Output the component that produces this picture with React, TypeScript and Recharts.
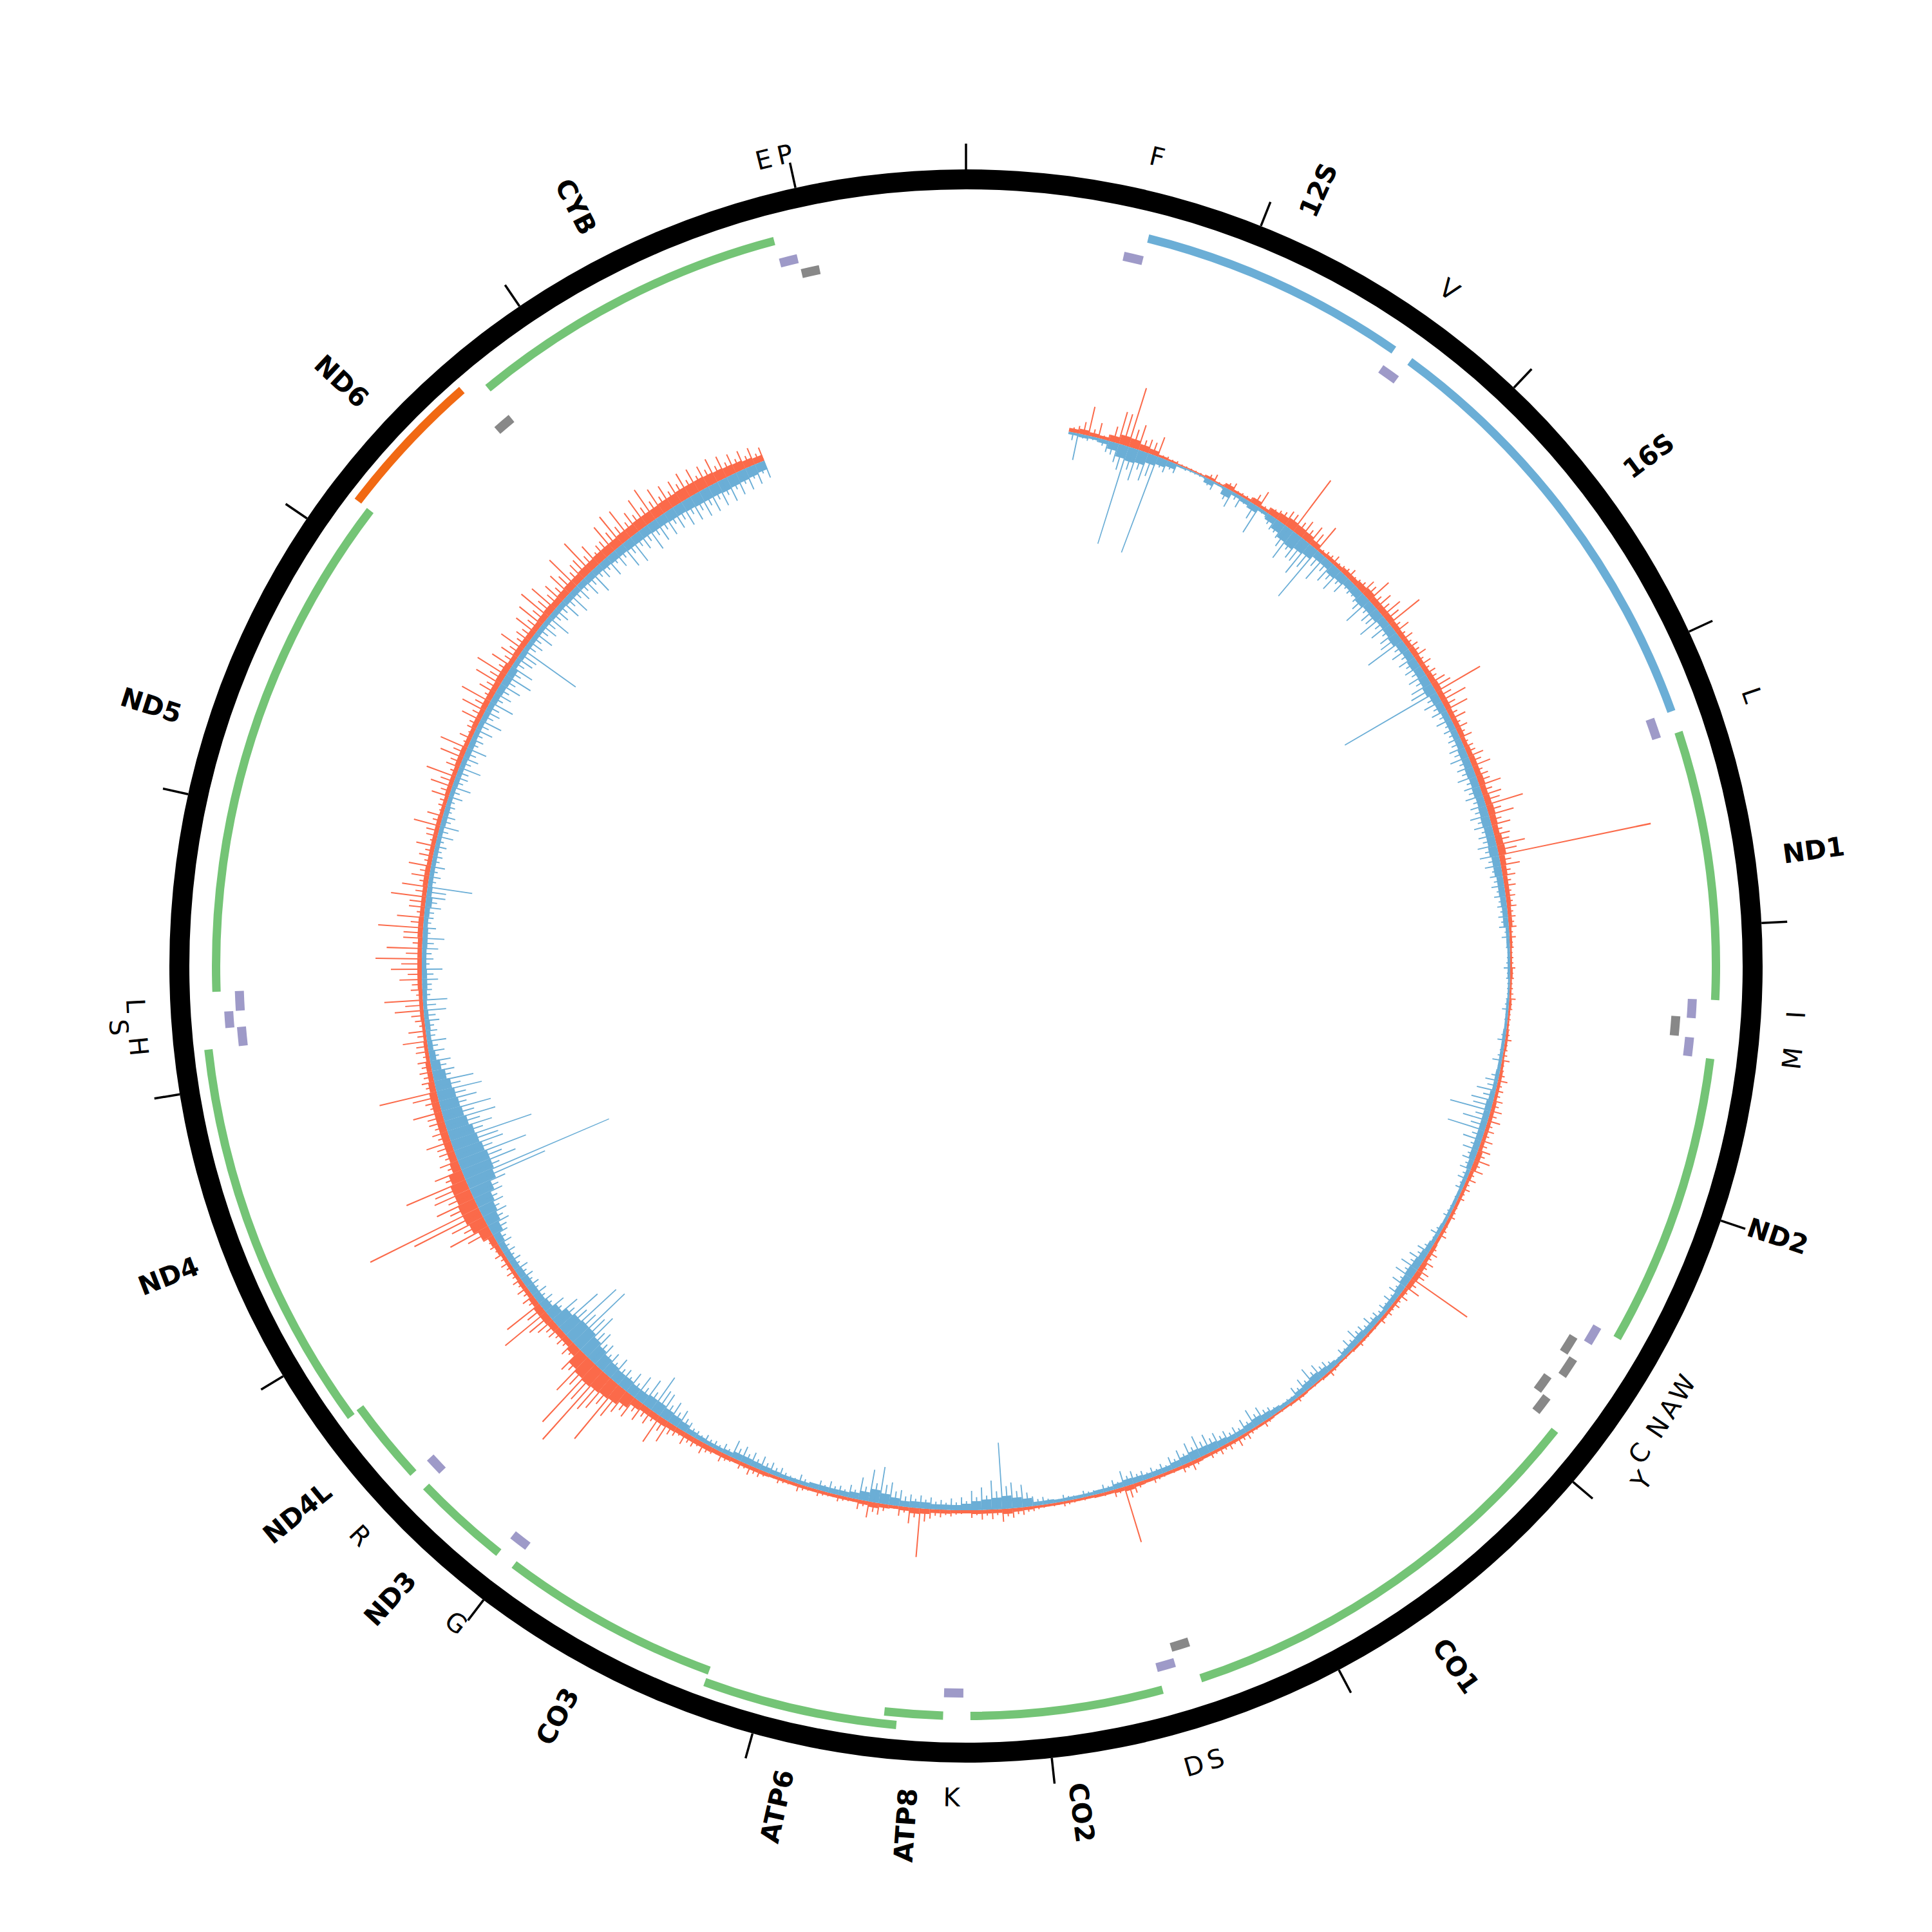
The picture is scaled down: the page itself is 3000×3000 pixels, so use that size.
import React from 'react';
import { PieChart, Pie, Cell, RadialBarChart, RadialBar, PolarAngleAxis, PolarRadiusAxis } from 'recharts';

const GENOME = 16569;
const SIZE = 3000;
const CX = 1500;
const CY = 1500;

// ---------------- outer ring & ticks ----------------
const RING_INNER = 1206;
const RING_OUTER = 1237;
const TICK_LEN = 40;
const tickPositions = [0, 1000, 2000, 3000, 4000, 5000, 6000, 7000, 8000, 9000, 10000, 11000, 12000, 13000, 14000, 15000, 16000];

// ---------------- features ----------------
const proteinNames = ['ND1', 'ND2', 'CO1', 'CO2', 'ATP8', 'ATP6', 'CO3', 'ND3', 'ND4L', 'ND4', 'ND5', 'CYB'];
const proteinStarts = [3307, 4470, 5904, 7586, 8366, 8527, 9207, 10059, 10470, 10760, 12337, 14747];
const proteinEnds = [4262, 5511, 7445, 8269, 8572, 9207, 9990, 10404, 10766, 12137, 14148, 15887];
const proteinLevels = [0, 0, 0, 0, 0, 1, 0, 0, 0, 1, 0, 0];

const minusProteinNames = ['ND6'];
const minusProteinStarts = [14149];
const minusProteinEnds = [14673];

const rrnaNames = ['12S', '16S'];
const rrnaStarts = [648, 1671];
const rrnaEnds = [1601, 3229];

const trnaPlusNames = ['F', 'V', 'L', 'I', 'M', 'W', 'D', 'K', 'G', 'R', 'H', 'S', 'L', 'T'];
const trnaPlusStarts = [577, 1602, 3230, 4263, 4402, 5512, 7518, 8295, 9991, 10405, 12138, 12207, 12266, 15888];
const trnaPlusEnds = [647, 1670, 3304, 4331, 4469, 5579, 7585, 8364, 10058, 10469, 12206, 12265, 12336, 15953];
const trnaPlusLevels = [0, 0, 0, 0, 0, 0, 0, 0, 0, 0, 0, 1, 0, 0];

const trnaMinusNames = ['Q', 'A', 'N', 'C', 'Y', 'S', 'E', 'P'];
const trnaMinusStarts = [4329, 5587, 5657, 5761, 5826, 7446, 14674, 15956];
const trnaMinusEnds = [4400, 5655, 5729, 5826, 5891, 7514, 14742, 16023];
const trnaMinusLevels = [0, 0, 1, 0, 1, 0, 0, 0];

// small tRNA labels as printed on the figure
const trnaLabelTexts = ['F', 'V', 'L', 'I', 'M', 'W', 'A', 'N', 'C', 'Y', 'S', 'D', 'K', 'G', 'R', 'H', 'S', 'L', 'E', 'P'];
const trnaLabelPositions = [612, 1636, 3267, 4297, 4436, 5546, 5621, 5693, 5794, 5859, 7480, 7552, 8330, 10025, 10437, 12172, 12236, 12301, 15921, 15990];
const trnaLabelLevels = [0, 0, 0, 0, 0, 0, 0, 0, 0, 1, 0, 0, 0, 0, 0, 0, 1, 0, 0, 0];

// ---------------- colours ----------------
const GREEN = '#74c476';
const BLUE = '#6baed6';
const ORANGE = '#f16913';
const PURPLE = '#9e9ac8';
const GREY = '#888888';
const HIST_RED = '#fb6a4a';
const HIST_BLUE = '#6baed6';

// ---------------- track radii ----------------
const GENE_R: [number, number] = [1158, 1171];
const GENE_BUMP_R: [number, number] = [1177, 1190];
const ND6_R: [number, number] = [1182, 1195];
const TPLUS_R: [number, number] = [1122, 1136];
const TPLUS_BUMP_R: [number, number] = [1140, 1154];
const TMINUS_R: [number, number] = [1098, 1112];
const TMINUS_BUMP_R: [number, number] = [1116, 1130];
const GENE_LABEL_R = 1280;
const TRNA_LABEL_R = 1291;
const LABEL_BUMP = 28;

// ---------------- histogram (≈50 bp bins, bins 11..311) ----------------
// body = dense core height, spikeA = tallest line in bin, spikeB = secondary line
const N_BINS = 331;
const FIRST_BIN = 11;
const redBody = [
  6, 8, 6, 5, 10, 15, 14, 10, 8,
  4, 3, 2, 2, 2, 4, 2, 7, 4, 4, 9, 5, 10, 12, 14, 13, 12, 9, 5, 6,
  6, 8, 8, 10, 12, 10, 10, 10, 9, 8, 8, 9, 8, 8, 9, 10, 9, 9, 8, 8,
  8, 7, 8, 9, 9, 10, 9, 10, 11, 10, 9, 11, 12, 9, 8, 7, 7, 7, 6, 6,
  4, 4, 3, 3, 4, 3, 3, 4, 3, 3, 4, 4, 3, 4, 5, 5, 5, 6, 6, 6,
  6, 6, 8, 8, 6, 5, 5, 5, 5, 5, 5, 5, 6, 6, 8, 9, 8, 6, 5, 5,
  5, 4, 4, 4, 4, 3, 3, 4, 4, 3, 3, 4, 4, 3, 3, 4, 4, 4, 5, 5,
  5, 5, 5, 6, 6, 5, 5, 5, 5, 6, 8, 6, 5, 5, 4, 4, 4, 4, 4, 4,
  5, 6, 8, 6, 6, 6, 5, 5, 6, 6, 8, 9, 6, 5, 6, 8, 6, 5, 5, 5,
  5, 5, 5, 5, 5, 5, 6, 6, 6, 6, 7, 7, 8, 8, 8, 8, 9, 10, 10, 10,
  12, 20, 26, 28, 30, 32, 30, 26, 14, 10, 10, 11, 12, 12, 9, 7, 7, 6, 6, 6,
  8, 10, 18, 25, 28, 28, 26, 26, 22, 14, 12, 12, 12, 12, 12, 12, 12, 10, 8, 8,
  6, 6, 5, 5, 6, 6, 6, 7, 7, 7, 7, 7, 8, 8, 7, 7, 7, 8, 8, 7,
  7, 7, 7, 7, 6, 6, 7, 7, 7, 8, 8, 7, 7, 8, 8, 9, 9, 9, 10, 10,
  8, 9, 9, 9, 9, 10, 11, 10, 11, 12, 12, 13, 13, 14, 14, 14, 15, 15, 16, 16,
  16, 17, 17, 18, 18, 18, 17, 16, 15, 14, 12, 10,
];
const redSpikeA = [
  12, 46, 24, 10, 51, 95, 40, 22, 32,
  6, 5, 3, 3, 4, 12, 4, 14, 6, 8, 28, 10, 15, 25, 98, 30, 32, 45, 10, 15,
  10, 17, 12, 25, 41, 30, 35, 60, 25, 20, 18, 22, 20, 18, 25, 79, 43, 37, 25, 20,
  20, 15, 25, 30, 20, 35, 30, 60, 40, 30, 25, 45, 241, 30, 20, 18, 15, 15, 12, 12,
  10, 6, 5, 8, 6, 5, 10, 6, 5, 5, 10, 6, 12, 6, 15, 12, 15, 18, 20, 15,
  18, 20, 25, 20, 15, 12, 10, 6, 10, 6, 12, 6, 15, 18, 20, 105, 25, 15, 12, 10,
  10, 5, 5, 8, 5, 4, 4, 10, 5, 4, 4, 8, 5, 4, 4, 10, 5, 12, 15, 12,
  12, 10, 6, 15, 12, 6, 6, 10, 6, 15, 90, 12, 6, 5, 5, 5, 8, 5, 5, 8,
  12, 15, 20, 15, 15, 12, 6, 10, 12, 15, 76, 25, 15, 6, 18, 25, 15, 6, 10, 6,
  10, 6, 12, 6, 10, 6, 12, 15, 12, 8, 15, 10, 18, 15, 20, 15, 36, 48, 25, 30,
  36, 40, 108, 60, 141, 121, 70, 42, 25, 20, 22, 30, 82, 64, 20, 18, 15, 15, 15, 16,
  15, 18, 67, 55, 188, 64, 60, 100, 45, 30, 25, 40, 25, 25, 46, 22, 91, 20, 20, 20,
  20, 38, 27, 15, 45, 60, 18, 35, 48, 72, 55, 30, 70, 42, 25, 55, 40, 28, 35, 22,
  30, 18, 42, 25, 12, 28, 35, 48, 22, 38, 45, 20, 15, 32, 40, 50, 28, 44, 52, 36,
  30, 42, 25, 38, 45, 55, 48, 35, 40, 58, 30, 60, 38, 25, 48, 55, 52, 36, 48, 56,
  45, 40, 38, 42, 40, 36, 40, 36, 32, 30, 28, 22,
];
const redSpikeB = [
  8, 20, 12, 6, 25, 50, 30, 18, 20,
  5, 4, 3, 3, 3, 8, 3, 10, 5, 6, 18, 7, 12, 18, 25, 22, 20, 25, 7, 10,
  8, 12, 10, 15, 22, 18, 20, 25, 15, 12, 12, 15, 12, 12, 15, 30, 22, 20, 15, 12,
  12, 10, 15, 18, 14, 20, 18, 25, 22, 18, 15, 22, 30, 18, 14, 12, 10, 10, 9, 9,
  6, 5, 4, 5, 5, 4, 6, 5, 4, 4, 6, 5, 7, 5, 9, 8, 9, 11, 12, 10,
  10, 12, 14, 12, 9, 8, 7, 5, 7, 5, 8, 5, 9, 10, 12, 18, 14, 9, 8, 7,
  6, 4, 4, 5, 4, 3, 3, 6, 4, 3, 3, 5, 4, 3, 3, 6, 4, 7, 9, 7,
  8, 7, 5, 9, 8, 5, 5, 7, 5, 9, 20, 8, 5, 4, 4, 4, 6, 4, 4, 6,
  8, 10, 12, 9, 9, 8, 5, 7, 8, 10, 20, 15, 9, 5, 11, 15, 9, 5, 7, 5,
  7, 5, 8, 5, 7, 5, 8, 10, 8, 6, 10, 7, 12, 10, 13, 10, 18, 22, 15, 18,
  20, 30, 55, 45, 70, 65, 50, 35, 18, 15, 15, 20, 40, 30, 14, 12, 10, 10, 10, 10,
  10, 12, 40, 38, 116, 45, 40, 55, 30, 20, 18, 25, 18, 18, 25, 16, 40, 15, 15, 15,
  10, 18, 14, 9, 20, 28, 10, 16, 22, 32, 25, 15, 30, 20, 12, 25, 18, 14, 16, 12,
  14, 10, 20, 14, 8, 12, 16, 22, 12, 18, 20, 10, 9, 15, 18, 22, 14, 20, 24, 18,
  18, 20, 18, 20, 22, 25, 28, 24, 22, 30, 22, 32, 25, 18, 26, 30, 28, 24, 26, 28,
  28, 26, 25, 28, 26, 24, 26, 24, 22, 20, 18, 15,
];
const blueBody = [
  4, 5, 4, 6, 12, 20, 22, 20, 15,
  12, 9, 3, 2, 2, 8, 3, 12, 5, 7, 10, 5, 10, 16, 22, 24, 20, 18, 12, 12,
  16, 14, 12, 13, 16, 14, 15, 13, 14, 16, 13, 12, 14, 13, 14, 16, 13, 12, 10, 10,
  10, 10, 12, 12, 13, 12, 13, 12, 13, 14, 13, 13, 14, 12, 12, 10, 10, 9, 8, 8,
  5, 5, 4, 4, 4, 3, 3, 4, 4, 4, 5, 5, 5, 5, 6, 6, 8, 10, 10, 10,
  10, 10, 10, 8, 6, 6, 5, 5, 5, 5, 6, 6, 8, 10, 12, 13, 12, 10, 8, 8,
  6, 8, 8, 10, 9, 8, 6, 8, 10, 12, 10, 8, 6, 6, 8, 10, 12, 10, 8, 8,
  10, 12, 13, 14, 12, 10, 8, 8, 8, 9, 10, 8, 6, 6, 5, 5, 5, 5, 6, 6,
  13, 16, 20, 18, 16, 14, 10, 8, 8, 8, 10, 10, 9, 12, 16, 20, 14, 10, 8, 8,
  8, 8, 6, 6, 6, 7, 8, 9, 10, 10, 7, 6, 6, 7, 8, 12, 14, 16, 18, 18,
  16, 16, 18, 18, 20, 22, 26, 30, 34, 34, 32, 28, 20, 14, 12, 12, 12, 11, 10, 10,
  10, 12, 18, 22, 25, 28, 35, 45, 48, 48, 45, 42, 40, 35, 32, 30, 28, 25, 20, 15,
  10, 8, 7, 8, 7, 6, 7, 8, 8, 7, 7, 8, 8, 7, 8, 10, 8, 7, 7, 7,
  7, 7, 7, 8, 8, 7, 7, 8, 8, 8, 9, 9, 8, 8, 9, 9, 10, 11, 12, 12,
  8, 9, 8, 8, 8, 8, 9, 9, 10, 10, 10, 11, 11, 12, 13, 13, 14, 14, 14, 15,
  15, 16, 16, 17, 18, 18, 18, 19, 18, 17, 16, 14,
];
const blueSpikeA = [
  42, 8, 6, 18, 30, 158, 50, 45, 159,
  20, 15, 4, 3, 3, 14, 4, 27, 19, 10, 46, 8, 20, 25, 52, 40, 58, 93, 45, 35,
  38, 30, 18, 20, 47, 30, 45, 35, 30, 65, 30, 28, 27, 30, 35, 164, 30, 25, 25, 20,
  20, 25, 30, 25, 30, 25, 28, 25, 30, 28, 25, 30, 30, 25, 20, 20, 18, 15, 15, 15,
  12, 6, 5, 10, 6, 4, 5, 10, 5, 5, 12, 6, 15, 6, 20, 30, 35, 65, 40, 60,
  30, 25, 20, 18, 15, 12, 6, 6, 10, 6, 15, 8, 20, 25, 30, 30, 25, 20, 18, 15,
  15, 20, 18, 25, 20, 15, 8, 18, 25, 30, 22, 18, 8, 8, 15, 25, 30, 22, 18, 20,
  25, 30, 35, 30, 25, 20, 15, 15, 15, 20, 25, 15, 12, 7, 10, 6, 10, 6, 12, 15,
  35, 40, 103, 45, 35, 30, 20, 18, 15, 18, 20, 20, 25, 35, 57, 50, 35, 20, 15, 18,
  15, 8, 15, 8, 15, 18, 22, 22, 25, 28, 15, 12, 14, 12, 18, 30, 35, 40, 62, 45,
  40, 35, 30, 38, 36, 40, 50, 70, 110, 105, 79, 50, 35, 25, 25, 22, 22, 23, 20, 20,
  23, 25, 36, 40, 42, 48, 60, 242, 90, 113, 80, 132, 72, 82, 79, 60, 72, 62, 35, 32,
  25, 30, 18, 23, 35, 38, 15, 25, 32, 18, 25, 34, 20, 15, 25, 30, 70, 18, 22, 15,
  18, 25, 30, 20, 15, 22, 30, 20, 35, 25, 32, 20, 28, 36, 25, 40, 28, 35, 45, 38,
  28, 100, 25, 32, 28, 40, 26, 34, 38, 28, 32, 40, 26, 34, 30, 42, 45, 32, 44, 38,
  38, 36, 40, 40, 42, 42, 40, 40, 36, 35, 32, 28,
];
const blueSpikeB = [
  12, 6, 5, 10, 20, 40, 35, 30, 35,
  15, 12, 3, 3, 3, 10, 3, 18, 10, 8, 25, 6, 15, 20, 35, 30, 40, 40, 25, 22,
  25, 20, 15, 16, 28, 20, 28, 22, 20, 35, 20, 18, 20, 20, 22, 40, 20, 18, 16, 14,
  15, 18, 20, 18, 20, 18, 20, 18, 20, 20, 18, 20, 20, 18, 15, 15, 13, 12, 11, 11,
  7, 5, 4, 6, 5, 4, 4, 6, 4, 4, 7, 5, 8, 5, 12, 15, 18, 30, 22, 25,
  18, 15, 14, 12, 10, 8, 5, 5, 7, 5, 9, 7, 12, 15, 18, 18, 16, 13, 11, 10,
  10, 13, 12, 16, 13, 10, 7, 12, 16, 18, 14, 12, 7, 7, 10, 16, 18, 14, 12, 13,
  16, 20, 22, 20, 16, 14, 10, 10, 10, 13, 15, 10, 8, 6, 7, 5, 7, 5, 8, 10,
  22, 26, 35, 28, 22, 20, 14, 12, 11, 12, 14, 14, 16, 22, 30, 30, 22, 14, 11, 12,
  10, 7, 10, 7, 10, 12, 14, 14, 16, 18, 10, 9, 10, 9, 12, 20, 22, 25, 41, 28,
  25, 22, 22, 25, 25, 28, 35, 45, 60, 55, 50, 38, 25, 18, 17, 16, 16, 16, 14, 14,
  15, 18, 28, 30, 32, 36, 45, 131, 60, 70, 60, 75, 55, 55, 50, 42, 45, 40, 28, 24,
  15, 16, 14, 14, 18, 20, 12, 15, 18, 12, 15, 18, 12, 12, 15, 18, 30, 12, 12, 12,
  12, 12, 15, 15, 12, 12, 15, 15, 18, 16, 18, 15, 15, 18, 18, 20, 18, 20, 22, 22,
  18, 30, 18, 17, 18, 20, 18, 18, 20, 18, 18, 20, 18, 18, 18, 20, 24, 22, 24, 24,
  24, 24, 26, 26, 28, 28, 26, 26, 24, 22, 20, 18,
];

const HIST_BASE = 845;
const HIST_OUTER = 1100;
const BAND = 360 / N_BINS;
const SPIKE_SIZE = 0.13;
const SPIKE_GAP = 0.4;

// ---------------- derived tables ----------------
type Seg = { name: string; value: number; fill: string };
type Feat = { name: string; start: number; end: number; color: string };

function toFeats(names: string[], starts: number[], ends: number[], color: string, levels?: number[], level?: number): Feat[] {
  const out: Feat[] = [];
  names.forEach((n, i) => {
    if (levels && levels[i] !== level) return;
    out.push({ name: n, start: starts[i] - 1, end: ends[i], color });
  });
  return out;
}

function buildSegments(feats: Feat[]): Seg[] {
  const sorted = [...feats].sort((a, b) => a.start - b.start);
  const segs: Seg[] = [];
  let cur = 0;
  for (const f of sorted) {
    const s = Math.max(f.start, cur);
    if (s > cur) segs.push({ name: 'gap', value: s - cur, fill: 'none' });
    segs.push({ name: f.name, value: f.end - s, fill: f.color });
    cur = f.end;
  }
  if (GENOME > cur) segs.push({ name: 'gap', value: GENOME - cur, fill: 'none' });
  return segs;
}

const geneStdSegs = buildSegments([
  ...toFeats(rrnaNames, rrnaStarts, rrnaEnds, BLUE),
  ...toFeats(proteinNames, proteinStarts, proteinEnds, GREEN, proteinLevels, 0),
]);
const geneBumpSegs = buildSegments(toFeats(proteinNames, proteinStarts, proteinEnds, GREEN, proteinLevels, 1));
const nd6Segs = buildSegments(toFeats(minusProteinNames, minusProteinStarts, minusProteinEnds, ORANGE));
const tPlusSegs = buildSegments(toFeats(trnaPlusNames, trnaPlusStarts, trnaPlusEnds, PURPLE, trnaPlusLevels, 0));
const tPlusBumpSegs = buildSegments(toFeats(trnaPlusNames, trnaPlusStarts, trnaPlusEnds, PURPLE, trnaPlusLevels, 1));
const tMinusSegs = buildSegments(toFeats(trnaMinusNames, trnaMinusStarts, trnaMinusEnds, GREY, trnaMinusLevels, 0));
const tMinusBumpSegs = buildSegments(toFeats(trnaMinusNames, trnaMinusStarts, trnaMinusEnds, GREY, trnaMinusLevels, 1));
const ringSegs: Seg[] = [{ name: 'ring', value: GENOME, fill: '#000000' }];

type LabelInfo = { text: string; kind: 'gene' | 'trna'; level: number };
const labelByPos = new Map<number, LabelInfo>();
const geneLabelPositions: number[] = [];
const allGenes = [
  ...rrnaNames.map((n, i) => ({ n, s: rrnaStarts[i], e: rrnaEnds[i] })),
  ...proteinNames.map((n, i) => ({ n, s: proteinStarts[i], e: proteinEnds[i] })),
  ...minusProteinNames.map((n, i) => ({ n, s: minusProteinStarts[i], e: minusProteinEnds[i] })),
];
allGenes.forEach((g) => {
  const mid = (g.s + g.e) / 2;
  geneLabelPositions.push(mid);
  labelByPos.set(mid, { text: g.n, kind: 'gene', level: 0 });
});
trnaLabelTexts.forEach((t, i) => {
  labelByPos.set(trnaLabelPositions[i], { text: t, kind: 'trna', level: trnaLabelLevels[i] });
});
const labelPositions = [...geneLabelPositions, ...trnaLabelPositions];

const binData = Array.from({ length: N_BINS }, (_, i) => {
  const k = i - FIRST_BIN;
  const ok = k >= 0 && k < redBody.length;
  const g = (arr: number[]) => (ok ? arr[k] : 0);
  return {
    bin: i,
    rBody: [0, g(redBody)],
    rA: [0, g(redSpikeA)],
    rB: [0, g(redSpikeB)],
    bBody: [-g(blueBody), 0],
    bA: [-g(blueSpikeA), 0],
    bB: [-g(blueSpikeB), 0],
  };
});

const axisData = [{ pos: 0 }, { pos: GENOME }];

// ---------------- renderers ----------------
function LabelTick(props: any) {
  const { x, y, payload } = props;
  const info = labelByPos.get(payload?.value);
  if (!info) return <g />;
  const dx = x - CX;
  const dy = y - CY;
  const r = Math.hypot(dx, dy) || 1;
  const ux = dx / r;
  const uy = dy / r;
  const theta = ((Math.atan2(dx, -dy) * 180) / Math.PI + 360) % 360;
  if (info.kind === 'gene') {
    const right = theta < 180;
    const rot = right ? theta - 90 : theta + 90;
    return (
      <text
        x={x}
        y={y}
        transform={`rotate(${rot} ${x} ${y})`}
        textAnchor={right ? 'start' : 'end'}
        dominantBaseline="central"
        fontFamily="DejaVu Sans"
        fontWeight="bold"
        fontSize={41}
        fill="#000"
      >
        {info.text}
      </text>
    );
  }
  const rr = TRNA_LABEL_R + info.level * LABEL_BUMP;
  const px = CX + ux * rr;
  const py = CY + uy * rr;
  const top = theta < 90 || theta > 270;
  const rot = top ? theta : theta - 180;
  return (
    <text
      x={px}
      y={py}
      transform={`rotate(${rot} ${px} ${py})`}
      textAnchor="middle"
      dominantBaseline="central"
      fontFamily="DejaVu Sans"
      fontSize={40}
      fill="#000"
    >
      {info.text}
    </text>
  );
}

const layer: React.CSSProperties = { position: 'absolute', left: 0, top: 0 };
const noMargin = { top: 0, right: 0, bottom: 0, left: 0 };

function track(segs: Seg[], r: [number, number], key: string) {
  return (
    <Pie
      key={key}
      data={segs}
      dataKey="value"
      nameKey="name"
      cx={CX}
      cy={CY}
      innerRadius={r[0]}
      outerRadius={r[1]}
      startAngle={90}
      endAngle={-270}
      stroke="none"
      label={false}
      labelLine={false}
      isAnimationActive={false}
    >
      {segs.map((s, i) => (
        <Cell key={i} fill={s.fill} stroke="none" />
      ))}
    </Pie>
  );
}

function HistLayer({ keys, color, spike }: { keys: string[]; color: string; spike: boolean }) {
  return (
    <div style={layer}>
      <RadialBarChart
        width={SIZE}
        height={SIZE}
        cx={CX}
        cy={CY}
        innerRadius={0}
        outerRadius={HIST_OUTER}
        startAngle={90}
        endAngle={-270}
        layout="centric"
        data={binData}
        margin={noMargin}
        barGap={spike ? SPIKE_GAP : 0}
        barSize={spike ? SPIKE_SIZE : BAND * 0.9995}
      >
        <PolarAngleAxis type="category" dataKey="bin" tick={false} tickLine={false} axisLine={false} />
        <PolarRadiusAxis
          type="number"
          domain={[-HIST_BASE, HIST_OUTER - HIST_BASE]}
          allowDataOverflow
          tick={false}
          axisLine={false}
        />
        {keys.map((k) => (
          <RadialBar key={k} dataKey={k} fill={color} stroke="none" isAnimationActive={false} />
        ))}
      </RadialBarChart>
    </div>
  );
}

export default function App() {
  return (
    <div style={{ position: 'absolute', left: 0, top: 0, width: SIZE, height: SIZE, background: '#ffffff' }}>
      <div style={layer}>
        <PieChart width={SIZE} height={SIZE} margin={noMargin}>
          {track(ringSegs, [RING_INNER, RING_OUTER], 'ring')}
          {track(geneStdSegs, GENE_R, 'genes')}
          {track(geneBumpSegs, GENE_BUMP_R, 'genesBump')}
          {track(nd6Segs, ND6_R, 'nd6')}
          {track(tPlusSegs, TPLUS_R, 'tplus')}
          {track(tPlusBumpSegs, TPLUS_BUMP_R, 'tplusBump')}
          {track(tMinusSegs, TMINUS_R, 'tminus')}
          {track(tMinusBumpSegs, TMINUS_BUMP_R, 'tminusBump')}
        </PieChart>
      </div>
      <div style={layer}>
        <RadialBarChart
          width={SIZE}
          height={SIZE}
          cx={CX}
          cy={CY}
          innerRadius={0}
          outerRadius={RING_OUTER}
          startAngle={90}
          endAngle={-270}
          data={axisData}
          margin={noMargin}
        >
          <PolarAngleAxis
            type="number"
            dataKey="pos"
            domain={[0, GENOME]}
            allowDataOverflow
            ticks={tickPositions}
            tickSize={TICK_LEN}
            stroke="#000"
            tickLine={{ stroke: '#000', strokeWidth: 3.5 }}
            axisLine={false}
            tick={() => <g />}
          />
        </RadialBarChart>
      </div>
      <div style={layer}>
        <RadialBarChart
          width={SIZE}
          height={SIZE}
          cx={CX}
          cy={CY}
          innerRadius={0}
          outerRadius={RING_OUTER}
          startAngle={90}
          endAngle={-270}
          data={axisData}
          margin={noMargin}
        >
          <PolarAngleAxis
            type="number"
            dataKey="pos"
            domain={[0, GENOME]}
            allowDataOverflow
            ticks={labelPositions}
            tickSize={GENE_LABEL_R - RING_OUTER}
            tickLine={false}
            axisLine={false}
            tick={LabelTick}
          />
        </RadialBarChart>
      </div>
      <HistLayer keys={['rBody']} color={HIST_RED} spike={false} />
      <HistLayer keys={['rA', 'rB']} color={HIST_RED} spike={true} />
      <HistLayer keys={['bBody']} color={HIST_BLUE} spike={false} />
      <HistLayer keys={['bA', 'bB']} color={HIST_BLUE} spike={true} />
    </div>
  );
}
